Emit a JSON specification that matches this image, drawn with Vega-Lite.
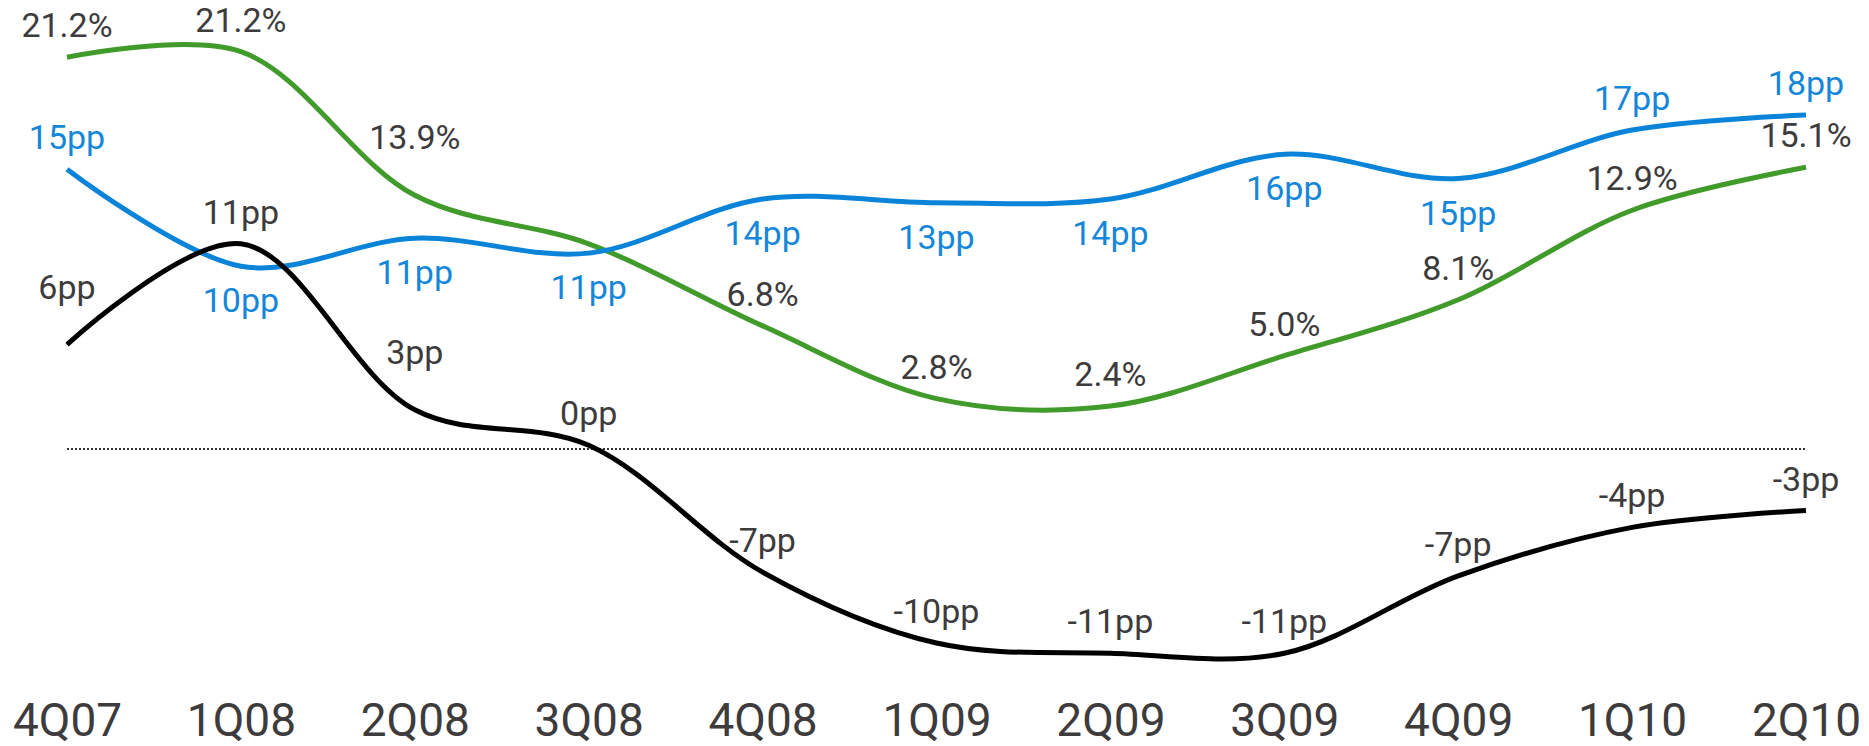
{
  "$schema": "https://vega.github.io/schema/vega-lite/v6.json",
  "width": 1869,
  "height": 690,
  "padding": {"left": 0, "top": 0, "right": 0, "bottom": 56},
  "autosize": {"type": "none"},
  "background": "white",
  "config": {"view": {"stroke": null}, "font": "Roboto, Liberation Sans, sans-serif"},
  "data": {
    "values": [
      {"quarter": "4Q07", "series": "green", "value": 21.0, "label": "21.2%", "side": "above"},
      {"quarter": "1Q08", "series": "green", "value": 21.3, "label": "21.2%", "side": "above"},
      {"quarter": "2Q08", "series": "green", "value": 13.6, "label": "13.9%", "side": "high"},
      {"quarter": "3Q08", "series": "green", "value": 11.0, "label": "", "side": "none"},
      {"quarter": "4Q08", "series": "green", "value": 6.6, "label": "6.8%", "side": "above"},
      {"quarter": "1Q09", "series": "green", "value": 2.7, "label": "2.8%", "side": "above"},
      {"quarter": "2Q09", "series": "green", "value": 2.3, "label": "2.4%", "side": "above"},
      {"quarter": "3Q09", "series": "green", "value": 5.0, "label": "5.0%", "side": "above"},
      {"quarter": "4Q09", "series": "green", "value": 8.0, "label": "8.1%", "side": "above"},
      {"quarter": "1Q10", "series": "green", "value": 12.8, "label": "12.9%", "side": "above"},
      {"quarter": "2Q10", "series": "green", "value": 15.1, "label": "15.1%", "side": "above"},
      {"quarter": "4Q07", "series": "blue", "value": 15.0, "label": "15pp", "side": "above"},
      {"quarter": "1Q08", "series": "blue", "value": 9.8, "label": "10pp", "side": "below"},
      {"quarter": "2Q08", "series": "blue", "value": 11.3, "label": "11pp", "side": "below"},
      {"quarter": "3Q08", "series": "blue", "value": 10.5, "label": "11pp", "side": "below"},
      {"quarter": "4Q08", "series": "blue", "value": 13.4, "label": "14pp", "side": "below"},
      {"quarter": "1Q09", "series": "blue", "value": 13.2, "label": "13pp", "side": "below"},
      {"quarter": "2Q09", "series": "blue", "value": 13.4, "label": "14pp", "side": "below"},
      {"quarter": "3Q09", "series": "blue", "value": 15.8, "label": "16pp", "side": "below"},
      {"quarter": "4Q09", "series": "blue", "value": 14.5, "label": "15pp", "side": "below"},
      {"quarter": "1Q10", "series": "blue", "value": 17.1, "label": "17pp", "side": "above"},
      {"quarter": "2Q10", "series": "blue", "value": 17.9, "label": "18pp", "side": "above"},
      {"quarter": "4Q07", "series": "black", "value": 5.6, "label": "6pp", "side": "high"},
      {"quarter": "1Q08", "series": "black", "value": 11.0, "label": "11pp", "side": "above"},
      {"quarter": "2Q08", "series": "black", "value": 2.1, "label": "3pp", "side": "high"},
      {"quarter": "3Q08", "series": "black", "value": 0.2, "label": "0pp", "side": "above"},
      {"quarter": "4Q08", "series": "black", "value": -6.6, "label": "-7pp", "side": "above"},
      {"quarter": "1Q09", "series": "black", "value": -10.4, "label": "-10pp", "side": "above"},
      {"quarter": "2Q09", "series": "black", "value": -10.95, "label": "-11pp", "side": "above"},
      {"quarter": "3Q09", "series": "black", "value": -10.95, "label": "-11pp", "side": "above"},
      {"quarter": "4Q09", "series": "black", "value": -6.8, "label": "-7pp", "side": "above"},
      {"quarter": "1Q10", "series": "black", "value": -4.2, "label": "-4pp", "side": "above"},
      {"quarter": "2Q10", "series": "black", "value": -3.3, "label": "-3pp", "side": "above"}
    ]
  },
  "layer": [
    {
      "mark": {"type": "rule", "strokeDash": [2, 2], "strokeWidth": 1.5, "color": "#333333"},
      "encoding": {
        "x": {"datum": "4Q07", "type": "ordinal"},
        "x2": {"datum": "2Q10"},
        "y": {"datum": 0, "type": "quantitative"}
      }
    },
    {
      "mark": {"type": "line", "interpolate": "catmull-rom", "strokeWidth": 5},
      "encoding": {
        "x": {"field": "quarter", "type": "ordinal"},
        "y": {"field": "value", "type": "quantitative"},
        "color": {"field": "series", "type": "nominal", "legend": null,
          "scale": {"domain": ["green", "blue", "black"], "range": ["#419b2b", "#0a84d9", "#000000"]}}
      }
    },
    {
      "transform": [{"filter": "datum.side === 'above'"}],
      "mark": {"type": "text", "fontSize": 34, "dy": -30, "align": "center", "baseline": "middle"},
      "encoding": {
        "x": {"field": "quarter", "type": "ordinal"},
        "y": {"field": "value", "type": "quantitative"},
        "text": {"field": "label"},
        "color": {"condition": {"test": "datum.series === 'blue'", "value": "#1487da"}, "value": "#3d3b3c"}
      }
    },
    {
      "transform": [{"filter": "datum.side === 'high'"}],
      "mark": {"type": "text", "fontSize": 34, "dy": -56, "align": "center", "baseline": "middle"},
      "encoding": {
        "x": {"field": "quarter", "type": "ordinal"},
        "y": {"field": "value", "type": "quantitative"},
        "text": {"field": "label"},
        "color": {"condition": {"test": "datum.series === 'blue'", "value": "#1487da"}, "value": "#3d3b3c"}
      }
    },
    {
      "transform": [{"filter": "datum.side === 'below'"}],
      "mark": {"type": "text", "fontSize": 34, "dy": 36, "align": "center", "baseline": "middle"},
      "encoding": {
        "x": {"field": "quarter", "type": "ordinal"},
        "y": {"field": "value", "type": "quantitative"},
        "text": {"field": "label"},
        "color": {"condition": {"test": "datum.series === 'blue'", "value": "#1487da"}, "value": "#3d3b3c"}
      }
    }
  ],
  "resolve": {"scale": {"color": "independent"}},
  "encoding": {
    "x": {
      "field": "quarter", "type": "ordinal",
      "scale": {"type": "point", "padding": 0, "domain": ["4Q07", "1Q08", "2Q08", "3Q08", "4Q08", "1Q09", "2Q09", "3Q09", "4Q09", "1Q10", "2Q10"], "range": [67, 1806]},
      "axis": {"title": null, "domain": false, "ticks": false, "labelAngle": 0, "labelFontSize": 46, "labelColor": "#3d3b3c", "labelPadding": 9, "grid": false}
    },
    "y": {
      "field": "value", "type": "quantitative",
      "scale": {"domain": [-12.92, 24.07], "nice": false, "zero": false},
      "axis": null
    }
  }
}
